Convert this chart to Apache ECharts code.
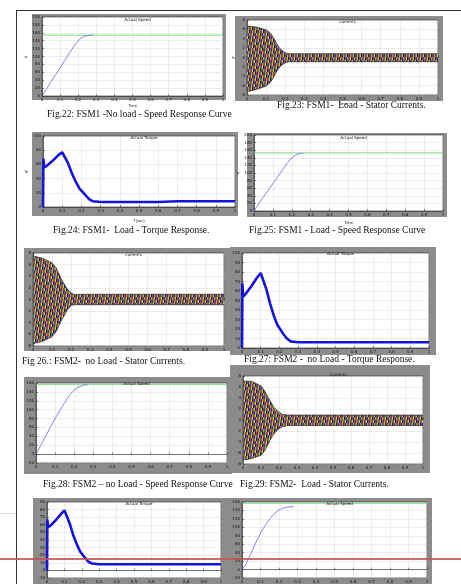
<!DOCTYPE html>
<html>
<head>
<meta charset="utf-8">
<script src="https://cdn.jsdelivr.net/npm/echarts@6/dist/echarts.min.js"></script>
<style>
body{margin:0;width:461px;height:584px;position:relative;overflow:hidden;background:#fff;font-family:"Liberation Serif",serif;}
.frame{position:absolute;background:#8c8c8c;}
.cap{position:absolute;font-size:9.5px;white-space:pre;color:#111;line-height:1;z-index:4;}
.rule{position:absolute;}
#main{position:absolute;left:0;top:0;width:461px;height:584px;}
</style>
</head>
<body>
<div id="frames"></div>
<div id="main"></div>
<div id="caps"></div>
<script>
// ---- data read from the scanned page ----
// speed response (rad/s) vs time (s)
var speedT22 = [0, 0.05, 0.1, 0.15, 0.18, 0.2, 0.22, 0.25, 0.28];
var speed22  = [0, 36, 71, 108, 128, 140, 148, 153, 154];
var speedRef22 = 154;
var speedT25 = [0, 0.05, 0.1, 0.15, 0.18, 0.2, 0.22, 0.24, 0.26];
var speed25  = [0, 37, 72, 108, 128, 140, 147, 151, 152];
var speedRef25 = 153;
var speedT28 = [0, 0.05, 0.1, 0.15, 0.18, 0.2, 0.22, 0.25, 0.27];
var speed28  = [0, 40, 80, 116, 135, 144, 150, 155, 156];
var speedRef28 = 157;
var speedT30 = [0, 0.02, 0.05, 0.1, 0.15, 0.18, 0.2, 0.22, 0.25, 0.28];
var speed30  = [0, 12, 40, 86, 120, 134, 141, 145, 148, 149];
var speedRef30 = 157;

// torque response (N.m) vs time (s)
var torqueT  = [0, 0.002, 0.006, 0.02, 0.05, 0.08, 0.1, 0.11, 0.13, 0.15, 0.17, 0.19, 0.2, 0.205, 0.21, 0.22, 0.24, 0.26, 0.3, 0.4, 0.5, 0.6, 0.7, 0.8, 0.9, 1.0];
var torque24 = [0, 68, 56, 58, 65, 73, 77, 76, 62, 48, 36, 26, 23, 23, 21, 17, 11, 8, 7, 7, 7, 7, 8, 8, 8, 8];
var torque27 = [0, 68, 54, 57, 65, 74, 79, 77, 62, 47, 34, 24, 21, 22, 19, 15, 10, 7, 6, 6, 6, 6, 6, 6, 6, 6];
var torque31 = [0, 67, 57, 59, 66, 74, 79, 77, 62, 47, 35, 25, 22, 22, 20, 16, 11, 9, 8, 8, 8, 8, 8, 8, 8, 8];

// stator current envelopes (A) vs time (s)
var curT    = [0, 0.01, 0.05, 0.1, 0.12, 0.13, 0.15, 0.17, 0.18, 0.2, 0.22, 0.25, 0.3, 0.5, 0.7, 1.0];
var cur23Hi = [6.7, 6.8, 6.5, 5.9, 5.3, 4.8, 3.4, 2.0, 1.6, 1.0, 0.8, 0.8, 0.8, 0.8, 0.8, 0.8];
var cur23Lo = [-7.3, -7.2, -6.8, -6.1, -5.4, -4.8, -3.4, -2.0, -1.6, -1.1, -0.9, -0.9, -0.9, -0.9, -0.9, -0.9];
var cur26Hi = [7.5, 7.4, 7.1, 6.3, 5.5, 4.8, 3.4, 2.3, 1.8, 1.1, 0.8, 0.9, 0.9, 0.9, 0.9, 0.9];
var cur26Lo = [-7.6, -7.5, -7.2, -6.4, -5.6, -4.9, -3.5, -2.4, -1.8, -1.0, -0.9, -0.9, -0.9, -0.9, -0.9, -0.9];
var cur29Hi = [7.1, 7.1, 7.0, 6.2, 5.3, 4.7, 3.5, 2.4, 2.0, 1.4, 1.0, 0.9, 0.9, 0.9, 0.9, 0.9];
var cur29Lo = [-7.3, -7.3, -7.0, -6.4, -5.6, -5.0, -3.7, -2.6, -2.2, -1.6, -1.2, -1.0, -1.0, -1.0, -1.0, -1.0];

var captions = [
  'Fig.22: FSM1 -No load - Speed Response Curve',
  'Fig.23: FSM1-  Load - Stator Currents.',
  'Fig.24: FSM1-  Load - Torque Response.',
  'Fig.25: FSM1 - Load - Speed Response Curve',
  'Fig 26.: FSM2-  no Load - Stator Currents.',
  'Fig.27: FSM2 -  no Load - Torque Response.',
  'Fig.28: FSM2 \u2013 no Load - Speed Response Curve',
  'Fig.29: FSM2-  Load - Stator Currents.'
];

function pairs(xs, ys){
  var out = [];
  for (var i = 0; i < xs.length; i++) out.push([xs[i], ys[i]]);
  return out;
}

// fine multicoloured streaks standing in for the dense three-phase waveforms
var tile = document.createElement('canvas');
tile.width = 14; tile.height = 12;
var tctx = tile.getContext('2d');
var tcols = ['#c8352e', '#2f8f36', '#d9be55', '#1f1f33', '#8a3f8a', '#2c3aa8', '#b89a3c'];
for (var x = 0; x < 14; x++) {
  for (var y = 0; y < 12; y++) {
    tctx.fillStyle = tcols[(x + Math.floor(y / 3) * 3) % 7];
    tctx.fillRect(x, y, 1, 1);
  }
}

// layout of the ten scanned figures
var panels = [
  {frame:[32,14,194,86],  plot:[42,17,181,79],  title:'Actual Speed',  kind:'speed',  t:speedT22, v:speed22, ref:speedRef22, ymin:0,   ymax:200, yint:20, yName:'w',  xName:'Time',   xGap:8},
  {frame:[235,16,208,85], plot:[247,20,191,75], title:'currents',      kind:'cur',    hi:cur23Hi, lo:cur23Lo, ymin:-8, ymax:8, yint:2, yName:'Is', xName:'Time', xGap:6},
  {frame:[32,132,206,84], plot:[43,136,192,71], title:'Actual Torque', kind:'torque', v:torque24, ymin:0, ymax:100, yint:20, yName:'Te', xName:'T(sec)', xGap:12},
  {frame:[247,133,200,84],plot:[254,135,189,76],title:'Actual Speed',  kind:'speed',  t:speedT25, v:speed25, ref:speedRef25, ymin:0, ymax:200, yint:20, yName:'w', xName:'Time', xGap:10},
  {frame:[24,248,208,103],plot:[33,253,191,93], title:'currents',      kind:'cur',    hi:cur26Hi, lo:cur26Lo, ymin:-8, ymax:8, yint:2},
  {frame:[230,247,206,108],plot:[242,253,187,95],title:'Actual Torque',kind:'torque', v:torque27, ymin:0, ymax:100, yint:10},
  {frame:[24,377,208,97], plot:[36,383,191,80], title:'Actual Speed',  kind:'speed',  t:speedT28, v:speed28, ref:speedRef28, ymin:-20, ymax:160, yint:20},
  {frame:[230,365,200,108],plot:[243,376,180,88],title:'Currents',     kind:'cur',    hi:cur29Hi, lo:cur29Lo, ymin:-8, ymax:8, yint:2},
  {frame:[33,498,197,90], plot:[47,502,174,77], title:'Actual Torque', kind:'torque', v:torque31, ymin:-10, ymax:90, yint:10},
  {frame:[230,498,202,90],plot:[242,502,185,77],title:'Actual Speed',  kind:'speed',  t:speedT30, v:speed30, ref:speedRef30, ymin:-20, ymax:160, yint:20}
];

var capPos = [[47,110],[277,101],[53,226],[249,226],[22,357],[244,355],[43,480],[240,480]];

// grey figure frames and captions (plain html)
var framesDiv = document.getElementById('frames');
panels.forEach(function(p){
  var d = document.createElement('div');
  d.className = 'frame';
  d.style.left = p.frame[0] + 'px'; d.style.top = p.frame[1] + 'px';
  d.style.width = p.frame[2] + 'px'; d.style.height = p.frame[3] + 'px';
  framesDiv.appendChild(d);
});
var capsDiv = document.getElementById('caps');
captions.forEach(function(c, i){
  var d = document.createElement('div');
  d.className = 'cap';
  d.textContent = c;
  d.style.left = capPos[i][0] + 'px'; d.style.top = capPos[i][1] + 'px';
  capsDiv.appendChild(d);
});
[
  {l:16, t:10, w:445, h:1, c:'#333'},
  {l:16, t:10, w:1, h:574, c:'#333'},
  {l:0, t:513, w:16, h:1, c:'#ddd'},
  {l:0, t:558, w:461, h:2, c:'rgba(196,82,82,0.85)'}
].forEach(function(r){
  var d = document.createElement('div');
  d.className = 'rule';
  d.style.cssText = 'left:'+r.l+'px;top:'+r.t+'px;width:'+r.w+'px;height:'+r.h+'px;background:'+r.c+';z-index:5;';
  document.body.appendChild(d);
});

// ---- echarts: one canvas, ten grids ----
var grids = [], xAxes = [], yAxes = [], series = [], titles = [];
panels.forEach(function(p, k){
  grids.push({
    left: p.plot[0], top: p.plot[1], width: p.plot[2], height: p.plot[3],
    show: true, backgroundColor: '#fff', borderColor: '#222', borderWidth: 0.6
  });
  titles.push({
    text: p.title,
    left: p.plot[0] + p.plot[2] / 2, top: p.frame[1] + (p.plot[1] - p.frame[1]) / 2 - 3,
    textAlign: 'center',
    textStyle: {fontSize: 4, fontWeight: 'normal', color: '#111', fontFamily: 'DejaVu Sans'}
  });
  xAxes.push({
    gridIndex: k, type: 'value', min: 0, max: 1, interval: 0.1,
    name: p.xName || '', nameLocation: 'middle', nameGap: p.xGap || 8,
    nameTextStyle: {fontSize: 4, color: '#222'},
    axisLine: {lineStyle: {color: '#222', width: 0.6}},
    axisTick: {inside: true, length: 2, lineStyle: {color: '#222', width: 0.5}},
    axisLabel: {fontSize: 4, color: '#111', margin: 2, fontFamily: 'DejaVu Sans'},
    splitLine: {lineStyle: {color: '#c4c4c4', type: 'dotted', width: 0.6}}
  });
  yAxes.push({
    gridIndex: k, type: 'value', min: p.ymin, max: p.ymax, interval: p.yint,
    name: p.yName || '', nameLocation: 'middle', nameGap: 12, nameRotate: 0,
    nameTextStyle: {fontSize: 4, color: '#222'},
    axisLine: {lineStyle: {color: '#222', width: 0.6}},
    axisTick: {inside: true, length: 2, lineStyle: {color: '#222', width: 0.5}},
    axisLabel: {fontSize: 4, color: '#111', margin: 2, fontFamily: 'DejaVu Sans'},
    splitLine: {lineStyle: {color: '#c4c4c4', type: 'dotted', width: 0.6}}
  });
  if (p.kind === 'speed') {
    series.push({
      type: 'line', xAxisIndex: k, yAxisIndex: k, symbol: 'none', silent: true,
      data: [[0, p.ref], [1, p.ref]],
      lineStyle: {color: '#6fd86f', width: 0.9}
    });
    series.push({
      type: 'line', xAxisIndex: k, yAxisIndex: k, symbol: 'none', smooth: 0.3, silent: true,
      data: pairs(p.t, p.v),
      lineStyle: {color: '#6262ee', width: 0.8}
    });
  } else if (p.kind === 'torque') {
    series.push({
      type: 'line', xAxisIndex: k, yAxisIndex: k, symbol: 'none', silent: true,
      data: pairs(torqueT, p.v),
      lineStyle: {color: '#1414dc', width: 2.6}
    });
  } else {
    [p.hi, p.lo].forEach(function(env){
      series.push({
        type: 'line', xAxisIndex: k, yAxisIndex: k, symbol: 'none', silent: true,
        data: pairs(curT, env),
        lineStyle: {color: '#22222e', width: 0.7},
        areaStyle: {color: {image: tile, repeat: 'repeat'}, opacity: 1, origin: 'auto'}
      });
    });
  }
});

var chart = echarts.init(document.getElementById('main'), null, {renderer: 'canvas'});
chart.setOption({
  animation: false,
  title: titles,
  grid: grids,
  xAxis: xAxes,
  yAxis: yAxes,
  series: series
});
</script>
</body>
</html>
